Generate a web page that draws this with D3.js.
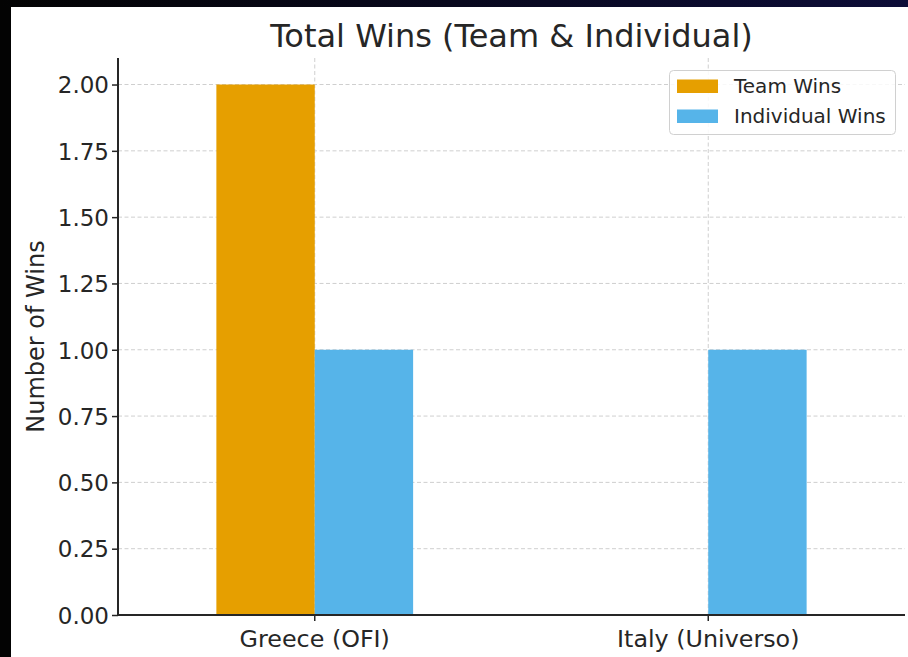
<!DOCTYPE html>
<html>
<head>
<meta charset="utf-8">
<script src="https://cdn.jsdelivr.net/npm/d3@7"></script>
<style>
  html, body { margin: 0; padding: 0; background: #000; }
  svg { display: block; }
  text { font-family: "DejaVu Sans", sans-serif; fill: #262626; }
</style>
</head>
<body>
<svg id="chart" width="908" height="657"></svg>
<script>
const categories = ["Greece (OFI)", "Italy (Universo)"];
const seriesNames = ["Team Wins", "Individual Wins"];
const teamWins = [2, 0];
const individualWins = [1, 1];
const yTicks = [0, 0.25, 0.5, 0.75, 1.0, 1.25, 1.5, 1.75, 2.0];
const colors = ["#E69F00", "#56B4E9"];
const title = "Total Wins (Team & Individual)";
const yLabel = "Number of Wins";

const seriesValues = [teamWins, individualWins];

const W = 908, H = 657;
const svg = d3.select("#chart");

// background frame
const defs = svg.append("defs");
const grad = defs.append("linearGradient").attr("id", "topband").attr("x1", "0").attr("x2", "1").attr("y1", "0").attr("y2", "0");
grad.append("stop").attr("offset", "0").attr("stop-color", "#030303");
grad.append("stop").attr("offset", "1").attr("stop-color", "#0d0d38");
svg.append("rect").attr("width", W).attr("height", H).attr("fill", "#030303");
svg.append("rect").attr("width", W).attr("height", 7).attr("fill", "url(#topband)");
svg.append("rect").attr("x", 11).attr("y", 7).attr("width", W - 11).attr("height", H - 7).attr("fill", "#ffffff");

const m = { left: 118, right: 905, top: 58, bottom: 615 };

const x = d3.scaleBand().domain(categories).range([m.left, m.right]).paddingInner(0).paddingOuter(0);
const xSub = d3.scaleBand().domain(seriesNames).range([0, x.bandwidth() * 0.5]);
const y = d3.scaleLinear().domain([0, 2.1]).range([m.bottom, m.top]);

const g = svg.append("g");

// grid
const gridColor = "#cfcfcf";
g.append("g").selectAll("line").data(yTicks).join("line")
  .attr("x1", m.left).attr("x2", m.right)
  .attr("y1", d => y(d)).attr("y2", d => y(d))
  .attr("stroke", gridColor).attr("stroke-width", 1).attr("stroke-dasharray", "4,2.5");
g.append("g").selectAll("line").data(categories).join("line")
  .attr("x1", d => x(d) + x.bandwidth() / 2).attr("x2", d => x(d) + x.bandwidth() / 2)
  .attr("y1", m.top).attr("y2", m.bottom)
  .attr("stroke", gridColor).attr("stroke-width", 1).attr("stroke-dasharray", "4,2.5");

// bars
seriesNames.forEach((s, si) => {
  g.append("g").selectAll("rect").data(categories).join("rect")
    .attr("x", d => x(d) + x.bandwidth() / 2 - x.bandwidth() * 0.25 + xSub(s))
    .attr("width", xSub.bandwidth())
    .attr("y", (d, i) => y(seriesValues[si][i]))
    .attr("height", (d, i) => y(0) - y(seriesValues[si][i]))
    .attr("fill", colors[si]);
});

// axes
const yAxis = g.append("g").attr("transform", `translate(${m.left},0)`)
  .call(d3.axisLeft(y).tickValues(yTicks).tickFormat(d3.format(".2f")).tickSize(6).tickPadding(3));
const xAxis = g.append("g").attr("transform", `translate(0,${m.bottom})`)
  .call(d3.axisBottom(x).tickSize(6).tickPadding(8));
[xAxis, yAxis].forEach(a => {
  a.select(".domain").attr("stroke", "#262626").attr("stroke-width", 2);
  a.selectAll(".tick line").attr("stroke", "#262626").attr("stroke-width", 1.5);
  a.selectAll("text").style("font-family", '"DejaVu Sans", sans-serif').attr("fill", "#262626");
});
yAxis.select(".domain").attr("d", `M0,${m.top}V${m.bottom}`);
xAxis.select(".domain").attr("d", `M${m.left},0H${m.right}`);
yAxis.selectAll("text").style("font-size", "23px").attr("dy", "0.36em");
xAxis.selectAll("text").style("font-size", "23.8px").attr("dy", "0.74em");

// title
svg.append("text").attr("x", (m.left + m.right) / 2).attr("y", 47)
  .attr("text-anchor", "middle").style("font-size", "32px").text(title);

// y label
svg.append("text").attr("transform", `translate(44,${(m.top + m.bottom) / 2}) rotate(-90)`)
  .attr("text-anchor", "middle").style("font-size", "24px").text(yLabel);

// legend
const lg = svg.append("g");
lg.append("rect").attr("x", 669.5).attr("y", 70.5).attr("width", 226).attr("height", 64)
  .attr("rx", 4).attr("fill", "#ffffff").attr("fill-opacity", 0.85).attr("stroke", "#d0d0d0").attr("stroke-width", 1);
seriesNames.forEach((s, i) => {
  lg.append("rect").attr("x", 677).attr("y", 79.5 + i * 30).attr("width", 41).attr("height", 13.5).attr("fill", colors[i]);
  lg.append("text").attr("x", 734).attr("y", 93 + i * 30).style("font-size", "20px").text(s);
});
</script>
</body>
</html>
